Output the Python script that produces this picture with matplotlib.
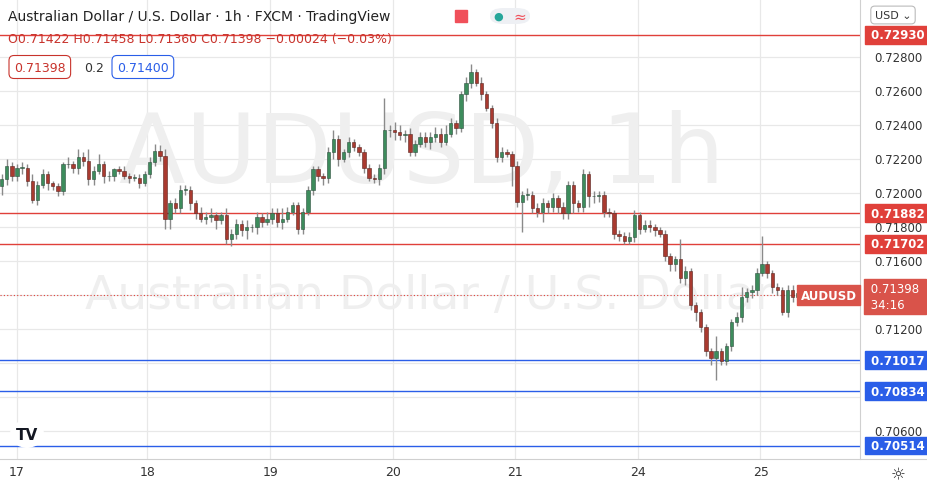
import numpy as np
import matplotlib
matplotlib.use("Agg")
from matplotlib import pyplot as plt
from matplotlib.patches import Rectangle, FancyBboxPatch
import matplotlib.transforms as mtransforms

# hourly closes, index 0 = start of day 17
first_open = 0.7204
closes = [0.7208, 0.7216, 0.7210,
          0.7215, 0.7215, 0.7207, 0.7196, 0.7205, 0.7211, 0.7206, 0.7204, 0.7201, 0.7217,
          0.7217, 0.7215, 0.7221, 0.7219, 0.7208, 0.7213, 0.7217, 0.7210, 0.7210, 0.7214,
          0.7213, 0.7210, 0.7209, 0.7209, 0.7206, 0.7211, 0.7218, 0.7225, 0.7222, 0.7185,
          0.7194, 0.7191, 0.7202, 0.7202, 0.7194, 0.7188, 0.7185, 0.7186, 0.7187, 0.7184,
          0.7187, 0.7173, 0.7176, 0.7182, 0.7178, 0.7180, 0.7180, 0.7186, 0.7183, 0.7185,
          0.7188, 0.7183, 0.7185, 0.7189, 0.7193, 0.7179, 0.7189, 0.7202, 0.7214, 0.7210,
          0.7209, 0.7224, 0.7232, 0.7220, 0.7224, 0.7230, 0.7227, 0.7224, 0.7215, 0.7209,
          0.7208, 0.7215, 0.7237, 0.7237, 0.7236, 0.7234, 0.7235, 0.7224, 0.7229, 0.7233,
          0.7230, 0.7233, 0.7235, 0.7230, 0.7235, 0.7241, 0.7238, 0.7258, 0.7265, 0.7271,
          0.7265, 0.7258, 0.7250, 0.7241, 0.7221, 0.7224, 0.7223, 0.7216, 0.7195, 0.7199,
          0.7199, 0.7191, 0.7189, 0.7194, 0.7192, 0.7197, 0.7192, 0.7188, 0.7205, 0.7194,
          0.7192, 0.7211, 0.7198, 0.7198, 0.7199, 0.7189, 0.7188, 0.7176, 0.7175, 0.7172,
          0.7174, 0.7187, 0.7179, 0.7181, 0.7180, 0.7178, 0.7176, 0.7163, 0.7158, 0.7161,
          0.7150, 0.7154, 0.7134, 0.7130, 0.7121, 0.7107, 0.7103, 0.7107, 0.7101, 0.7110,
          0.7124, 0.7127, 0.7139, 0.7142, 0.7143, 0.7153, 0.7158, 0.7153, 0.7145, 0.7143,
          0.7130, 0.7143, 0.7139, 0.7141, 0.71398]
# wick lengths in pips
upper = [3, 4, 2,
         2, 3, 2, 4, 2, 3, 2, 1, 2, 1,
         4, 2, 5, 3, 7, 3, 6, 2, 3, 1,
         2, 3, 2, 2, 2, 2, 3, 4, 3, 4,
         2, 3, 3, 3, 2, 2, 4, 3, 4, 2,
         2, 4, 3, 3, 2, 4, 2, 3, 2, 4,
         3, 3, 6, 3, 2, 2, 2, 2, 2, 2,
         2, 3, 5, 2, 2, 3, 2, 2, 2, 2,
         2, 2, 19, 3, 5, 4, 2, 3, 2, 3,
         3, 3, 4, 3, 5, 3, 2, 2, 3, 5,
         2, 3, 2, 2, 3, 3, 2, 2, 3, 2,
         4, 2, 3, 3, 2, 3, 2, 3, 2, 2,
         2, 3, 2, 3, 2, 2, 2, 2, 2, 2,
         3, 3, 2, 3, 3, 2, 2, 2, 2, 2,
         12, 3, 2, 2, 2, 2, 2, 9, 2, 2,
         2, 3, 6, 2, 3, 3, 17, 2, 2, 2,
         2, 3, 3, 4, 2]
lower = [5, 3, 3,
         3, 4, 3, 2, 3, 2, 4, 2, 3, 2,
         2, 3, 4, 3, 3, 3, 2, 4, 3, 3,
         2, 2, 3, 2, 3, 2, 2, 2, 3, 6,
         6, 3, 3, 3, 4, 3, 2, 3, 3, 5,
         2, 3, 4, 3, 3, 5, 3, 4, 3, 2,
         3, 3, 4, 2, 2, 3, 3, 2, 3, 3,
         4, 3, 4, 4, 2, 3, 2, 2, 3, 2,
         2, 3, 4, 4, 5, 3, 4, 2, 2, 2,
         3, 4, 3, 3, 2, 2, 3, 2, 4, 3,
         2, 3, 2, 3, 3, 3, 2, 12, 3, 18,
         3, 3, 3, 6, 4, 3, 4, 3, 3, 6,
         3, 3, 6, 4, 3, 3, 2, 3, 3, 2,
         2, 3, 3, 2, 3, 3, 2, 3, 4, 4,
         3, 4, 3, 5, 3, 3, 4, 13, 2, 2,
         3, 2, 3, 3, 4, 3, 2, 3, 4, 3,
         2, 3, 3, 3, 2]

day_labels = ["17", "18", "19", "20", "21", "24", "25"]
day_pos = [0, 25.5, 49.6, 73.7, 97.6, 121.6, 145.7]
grid_prices = [0.728, 0.726, 0.724, 0.722, 0.720, 0.718, 0.716, 0.714, 0.712, 0.710, 0.708, 0.706]
tick_prices = [0.728, 0.726, 0.724, 0.722, 0.720, 0.718, 0.716, 0.712, 0.706]
red_levels = [0.72930, 0.71882, 0.71702]
blue_levels = [0.71017, 0.70834, 0.70514]
last_price = 0.71398

RED = "#e0403a"
BLUE = "#2a5ee8"
GREEN_C = "#3d8c5c"
RED_C = "#a93a30"

fig = plt.figure(figsize=(9.28, 4.89), dpi=100)
ax = fig.add_axes([0, 29 / 489, 860 / 928, 460 / 489])
ax.set_xlim(-3.33, 165.2)
ax.set_ylim(0.704353, 0.731418)
for s in ax.spines.values():
    s.set_visible(False)
ax.spines["right"].set_visible(True)
ax.spines["right"].set_color("#d0d0d0")
ax.tick_params(left=False, bottom=False, labelleft=False, labelbottom=False)

for p in grid_prices:
    ax.axhline(p, color="#e8e8e8", lw=0.9, zorder=0)
for d in day_pos:
    ax.axvline(d, color="#e8e8e8", lw=0.9, zorder=0)

ax.text(0.49, 0.66, "AUDUSD, 1h", transform=ax.transAxes, ha="center", va="center",
        fontsize=70, color="#efefef", zorder=0.5)
ax.text(0.5, 0.355, "Australian Dollar / U.S. Dollar", transform=ax.transAxes, ha="center",
        va="center", fontsize=34, color="#efefef", zorder=0.5)

idx = np.arange(len(closes)) - 3
opens = [first_open] + closes[:-1]
for i, o, c, u, l in zip(idx, opens, closes, upper, lower):
    hi = max(o, c) + u * 0.0001
    lo = min(o, c) - l * 0.0001
    col = GREEN_C if c >= o else RED_C
    ax.vlines(i, lo, hi, color="#8a8a8a", lw=1, zorder=2)
    h = max(abs(c - o), 0.00003)
    ax.add_patch(Rectangle((i - 0.33, min(o, c)), 0.66, h, facecolor=col,
                           edgecolor="#2f4f3f" if c >= o else "#5a2520", lw=0.4, zorder=3))

trans = mtransforms.blended_transform_factory(ax.transAxes, ax.transData)
for lv, col in [(v, RED) for v in red_levels] + [(v, BLUE) for v in blue_levels]:
    ax.axhline(lv, color=col, lw=1, zorder=1)
    ax.text(1.008, lv, f" {lv:.5f} ", transform=trans, ha="left", va="center", fontsize=8.5,
            color="white", fontweight="bold", clip_on=False,
            bbox=dict(boxstyle="square,pad=0.2", fc=col, ec=col))
for p in tick_prices:
    ax.text(1.016, p, f"{p:.5f}", transform=trans, ha="left", va="center", fontsize=8.5,
            color="#333333", clip_on=False)

ax.axhline(last_price, color=RED, lw=0.8, ls=(0, (1, 2)), zorder=1)
ax.text(0.996, last_price, "AUDUSD", transform=trans, ha="right", va="center", fontsize=8.5,
        color="white", fontweight="bold", bbox=dict(boxstyle="square,pad=0.3", fc="#d9534a", ec="#d9534a"))
ax.text(1.008, last_price - 0.00005, f" {last_price:.5f} \n 34:16", transform=trans, ha="left",
        va="center", fontsize=8.5, color="white", clip_on=False, linespacing=1.3,
        bbox=dict(boxstyle="square,pad=0.25", fc="#d9534a", ec="#d9534a"))

# time axis
for d, lab in zip(day_pos, day_labels):
    fig.text((17 + d * 5.104) / 928, 1 - 472 / 489, lab, ha="center", va="center",
             fontsize=9, color="#333333")
fig.add_artist(plt.Line2D([0, 1], [29 / 489, 29 / 489], color="#d0d0d0", lw=0.8))

# header
fig.text(8 / 928, 1 - 17 / 489, "Australian Dollar / U.S. Dollar · 1h · FXCM · TradingView",
         fontsize=10, color="#222222", va="center")
fig.add_artist(Rectangle((455 / 928, 1 - 23 / 489), 12 / 928, 12 / 489, color="#f0505a",
                         transform=fig.transFigure))
fig.add_artist(FancyBboxPatch((490 / 928, 1 - 25 / 489), 40 / 928, 16 / 489,
                              boxstyle="round,pad=0,rounding_size=0.015", fc="#eef0f4", ec="none",
                              transform=fig.transFigure))
fig.text(498 / 928, 1 - 17 / 489, "●", fontsize=8, color="#26a69a", va="center", ha="center")
fig.text(520 / 928, 1 - 17 / 489, "≈", fontsize=11, color="#f0505a", va="center", ha="center")
fig.text(8 / 928, 1 - 39 / 489, "O0.71422 H0.71458 L0.71360 C0.71398 −0.00024 (−0.03%)",
         fontsize=9, color="#c8332c", va="center")
fig.text(14 / 928, 1 - 68 / 489, "0.71398", fontsize=9, color="#c8332c", va="center",
         bbox=dict(boxstyle="round,pad=0.4", fc="white", ec="#c8332c", lw=0.8))
fig.text(84 / 928, 1 - 68 / 489, "0.2", fontsize=9, color="#333333", va="center")
fig.text(117 / 928, 1 - 68 / 489, "0.71400", fontsize=9, color="#2a5ee8", va="center",
         bbox=dict(boxstyle="round,pad=0.4", fc="white", ec="#2a5ee8", lw=0.8))
fig.text(893 / 928, 1 - 16 / 489, "USD ⌄", fontsize=8, color="#333333", va="center", ha="center",
         bbox=dict(boxstyle="round,pad=0.35", fc="white", ec="#bbbbbb", lw=0.8))
fig.add_artist(FancyBboxPatch((10 / 928, 1 - 450 / 489), 34 / 928, 30 / 489,
                              boxstyle="round,pad=0,rounding_size=0.03", fc="white", ec="none",
                              transform=fig.transFigure))
fig.text(27 / 928, 1 - 436 / 489, "TV", fontsize=11, fontweight="bold", color="#131722",
         va="center", ha="center")
fig.text(898 / 928, 1 - 475 / 489, "☼", fontsize=12, color="#333333", va="center", ha="center")

fig.savefig("out.png", dpi=100)
